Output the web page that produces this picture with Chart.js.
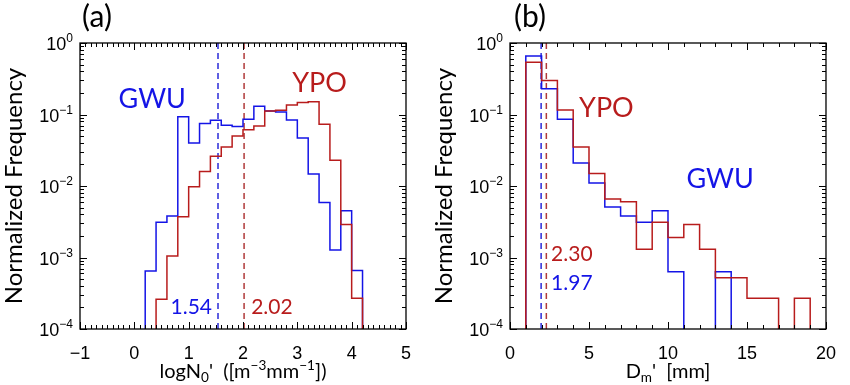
<!DOCTYPE html>
<html lang="en">
<head>
<meta charset="UTF-8">
<title>Normalized Frequency</title>
<script src="https://cdn.jsdelivr.net/npm/chart.js"></script>
<style>
    body { margin: 0; background: #fff; }
    .panel { position: absolute; top: 0; height: 385px; }
    #panelA { left: 0; width: 425px; }
    #panelB { left: 430px; width: 420px; }
</style>
</head>
<body>
<div class="panel" id="panelA"><canvas id="chartA"></canvas></div>
<div class="panel" id="panelB"><canvas id="chartB"></canvas></div>
<script>
// (a) logN0' histogram, bin width 0.2 (left edges)
const binsA = [0.2, 0.4, 0.6, 0.8, 1.0, 1.2, 1.4, 1.6, 1.8, 2.0, 2.2, 2.4, 2.6, 2.8, 3.0, 3.2, 3.4, 3.6, 3.8, 4.0];
const gwuA = [6.5e-4, 3.1e-3, 3.8e-3, 0.093, 0.040, 0.075, 0.083, 0.071, 0.068, 0.086, 0.13, 0.112, 0.108, 0.084, 0.047, 0.0147, 0.0059, 0.00127, 0.0045, 6.6e-4];
const ypoA = [0, 2.6e-4, 1.05e-3, 3.7e-3, 0.0098, 0.016, 0.026, 0.035, 0.050, 0.061, 0.069, 0.112, 0.115, 0.136, 0.147, 0.151, 0.073, 0.023, 0.0029, 2.7e-4];
const meanGwuA = 1.54;
const meanYpoA = 2.02;

// (b) Dm' histogram, bin width 1 mm (left edges)
const binsB = [1, 2, 3, 4, 5, 6, 7, 8, 9, 10, 11, 12, 13, 14, 15, 16, 17, 18];
const gwuB = [0.66, 0.23, 0.086, 0.021, 0.011, 0.0051, 0.0038, 0.0031, 0.0045, 6.3e-4, 0, 0, 6.3e-4, 0, 0, 0, 0, 0];
const ypoB = [0.54, 0.30, 0.116, 0.035, 0.015, 0.0066, 0.006, 0.0013, 0.0031, 0.0019, 0.0029, 0.0013, 5.2e-4, 5.2e-4, 2.7e-4, 2.7e-4, 0, 2.7e-4];
const meanGwuB = 1.97;
const meanYpoB = 2.30;

const yExponents = [0, -1, -2, -3, -4];

const BLUE = '#1414e6';
const RED = '#b81c1c';
const tickFont = '"Liberation Sans", Arial, sans-serif';
const textFont = 'Lato, "Open Sans", sans-serif';
const FLOOR = 1e-8; // empty bins drop below the axis

function stepPoints(lefts, width, vals) {
    const pts = [{ x: lefts[0], y: FLOOR }];
    vals.forEach((v, i) => pts.push({ x: lefts[i], y: v > 0 ? v : FLOOR }));
    pts.push({ x: lefts[lefts.length - 1] + width, y: FLOOR });
    return pts;
}

function histSet(pts, color) {
    return { data: pts, borderColor: color, borderWidth: 1.5, stepped: true, pointRadius: 0, fill: false };
}

function meanSet(m, color) {
    return { data: [{ x: m, y: 1e-4 }, { x: m, y: 1 }], borderColor: color, borderWidth: 1.5,
             borderDash: [6, 4], pointRadius: 0, fill: false };
}

function minusFmt(v) {
    return v < 0 ? '\u2212' + Math.abs(v) : String(v);
}

// draw a string made of normal / sub / sup pieces, centred at cx
function richText(ctx, parts, cx, base, size) {
    const sizeOf = m => m === 'n' ? size : size * 0.68;
    let w = 0;
    parts.forEach(([t, m]) => { ctx.font = sizeOf(m) + 'px ' + textFont; w += ctx.measureText(t).width; });
    let x = cx - w / 2;
    ctx.textAlign = 'left';
    ctx.textBaseline = 'alphabetic';
    parts.forEach(([t, m]) => {
        ctx.font = sizeOf(m) + 'px ' + textFont;
        const dy = m === 'sub' ? size * 0.22 : m === 'sup' ? -size * 0.42 : 0;
        ctx.fillText(t, x, base + dy);
        x += ctx.measureText(t).width;
    });
}

const axisFrame = {
    id: 'axisFrame',
    afterDraw(chart, args, o) {
        const { ctx, chartArea: a, scales: { x, y } } = chart;
        ctx.save();
        ctx.strokeStyle = '#000';
        ctx.lineWidth = 1.3;
        ctx.strokeRect(a.left, a.top, a.right - a.left, a.bottom - a.top);
        ctx.lineWidth = 1;
        ctx.beginPath();
        const n = Math.round((x.max - x.min) / o.xMinor);
        for (let i = 0; i <= n; i++) {
            const v = x.min + i * o.xMinor;
            const r = v / o.xMajor;
            const len = Math.abs(r - Math.round(r)) < 1e-6 ? 7 : 4;
            const px = Math.round(x.getPixelForValue(v)) + 0.5;
            ctx.moveTo(px, a.bottom); ctx.lineTo(px, a.bottom - len);
            ctx.moveTo(px, a.top); ctx.lineTo(px, a.top + len);
        }
        yExponents.forEach(e => {
            for (let k = 1; k <= 9; k++) {
                if (e === 0 && k > 1) continue;
                const len = k === 1 ? 7 : 4;
                const py = Math.round(y.getPixelForValue(k * Math.pow(10, e))) + 0.5;
                ctx.moveTo(a.left, py); ctx.lineTo(a.left + len, py);
                ctx.moveTo(a.right, py); ctx.lineTo(a.right - len, py);
            }
        });
        ctx.stroke();

        // y tick labels 10^e
        ctx.fillStyle = '#000';
        yExponents.forEach(e => {
            const py = y.getPixelForValue(Math.pow(10, e));
            const ex = e === 0 ? '0' : '\u2212' + (-e);
            ctx.font = '12px ' + tickFont;
            const ew = ctx.measureText(ex).width;
            const right = a.left - 7;
            ctx.textAlign = 'left';
            ctx.textBaseline = 'alphabetic';
            ctx.fillText(ex, right - ew, py - 1);
            ctx.font = '18px ' + tickFont;
            ctx.textAlign = 'right';
            ctx.fillText('10', right - ew, py + 7);
        });

        // axis titles and panel tag
        ctx.save();
        ctx.translate(o.yTitleX, (a.top + a.bottom) / 2);
        ctx.rotate(-Math.PI / 2);
        ctx.font = '24px ' + textFont;
        ctx.textAlign = 'center';
        ctx.textBaseline = 'middle';
        ctx.fillText('Normalized Frequency', 0, 0);
        ctx.restore();
        richText(ctx, o.xTitle, (a.left + a.right) / 2, 378, 20);
        ctx.font = '30px ' + textFont;
        ctx.textAlign = 'center';
        ctx.textBaseline = 'alphabetic';
        ctx.fillText(o.tag, o.tagX, 27);

        // annotations, placed in data units
        o.notes.forEach(nt => {
            ctx.fillStyle = nt.color;
            ctx.font = nt.size + 'px ' + textFont;
            ctx.textAlign = nt.align;
            ctx.fillText(nt.text, x.getPixelForValue(nt.x), y.getPixelForValue(nt.y));
        });
        ctx.restore();
    }
};

function makeChart(id, cfg) {
    return new Chart(document.getElementById(id), {
        type: 'line',
        data: {
            datasets: [
                histSet(stepPoints(cfg.bins, cfg.width, cfg.ypo), RED),
                histSet(stepPoints(cfg.bins, cfg.width, cfg.gwu), BLUE),
                meanSet(cfg.meanYpo, '#b03a3a'),
                meanSet(cfg.meanGwu, '#2a2ad8')
            ]
        },
        options: {
            responsive: true,
            maintainAspectRatio: false,
            animation: false,
            layout: { padding: { top: 43, right: cfg.padRight, left: 0, bottom: 0 } },
            plugins: { legend: { display: false }, tooltip: { enabled: false }, axisFrame: cfg.frame },
            scales: {
                x: {
                    type: 'linear', min: cfg.xMin, max: cfg.xMax,
                    grid: { display: false, drawTicks: false }, border: { display: false },
                    ticks: { stepSize: cfg.xMajor, color: '#000', padding: 14,
                             font: { family: tickFont, size: 18 }, callback: minusFmt },
                    afterFit: s => { s.height = 56; }
                },
                y: {
                    type: 'logarithmic', min: 1e-4, max: 1,
                    grid: { display: false, drawTicks: false }, border: { display: false },
                    ticks: { display: false },
                    afterFit: s => { s.width = 80; }
                }
            }
        },
        plugins: [axisFrame]
    });
}

makeChart('chartA', {
    bins: binsA, width: 0.2, gwu: gwuA, ypo: ypoA, meanGwu: meanGwuA, meanYpo: meanYpoA,
    xMin: -1, xMax: 5, xMajor: 1, padRight: 16,
    frame: {
        xMajor: 1, xMinor: 0.1, yTitleX: 14, tag: '(a)', tagX: 97,
        xTitle: [['logN', 'n'], ['0', 'sub'], ["'  ([m", 'n'], ['\u22123', 'sup'], ['mm', 'n'], ['\u22121', 'sup'], ['])', 'n']],
        notes: [
            { text: 'GWU', x: 0.33, y: 0.123, color: BLUE, size: 27, align: 'center' },
            { text: 'YPO', x: 3.41, y: 0.206, color: RED, size: 27, align: 'center' },
            { text: '1.54', x: 1.43, y: 1.6e-4, color: BLUE, size: 21, align: 'right' },
            { text: '2.02', x: 2.15, y: 1.6e-4, color: RED, size: 21, align: 'left' }
        ]
    }
});

makeChart('chartB', {
    bins: binsB, width: 1, gwu: gwuB, ypo: ypoB, meanGwu: meanGwuB, meanYpo: meanYpoB,
    xMin: 0, xMax: 20, xMajor: 5, padRight: 10,
    frame: {
        xMajor: 5, xMinor: 1, yTitleX: 14, tag: '(b)', tagX: 100,
        xTitle: [['D', 'n'], ['m', 'sub'], ["'  [mm]", 'n']],
        notes: [
            { text: 'YPO', x: 6.1, y: 0.093, color: RED, size: 27, align: 'center' },
            { text: 'GWU', x: 13.3, y: 0.0094, color: BLUE, size: 27, align: 'center' },
            { text: '2.30', x: 2.6, y: 8.8e-4, color: RED, size: 21, align: 'left' },
            { text: '1.97', x: 2.6, y: 3.5e-4, color: BLUE, size: 21, align: 'left' }
        ]
    }
});
</script>
</body>
</html>
